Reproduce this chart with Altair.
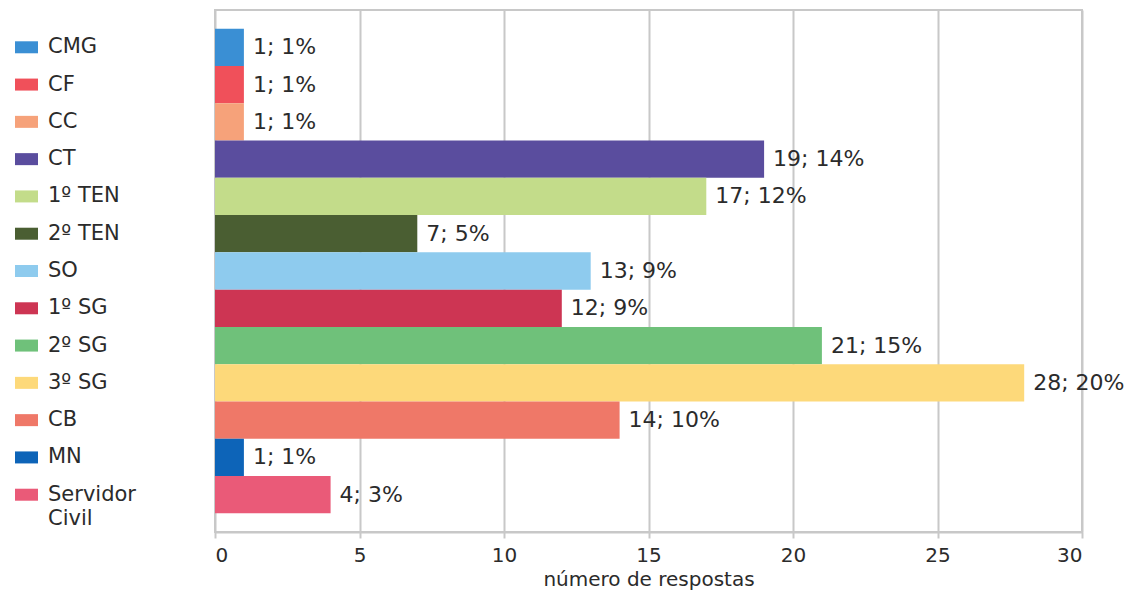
import altair as alt
import pandas as pd

categories = ["CMG", "CF", "CC", "CT", "1º TEN", "2º TEN", "SO", "1º SG",
              "2º SG", "3º SG", "CB", "MN", "Servidor Civil"]
legend_labels = ["CMG", "CF", "CC", "CT", "1º TEN", "2º TEN", "SO", "1º SG",
                 "2º SG", "3º SG", "CB", "MN", "Servidor\nCivil"]
counts = [1, 1, 1, 19, 17, 7, 13, 12, 21, 28, 14, 1, 4]
percents = [1, 1, 1, 14, 12, 5, 9, 9, 15, 20, 10, 1, 3]
colors = ["#3a8fd4", "#f0505a", "#f6a27a", "#5a4d9e", "#c3dc8a", "#4a5e32",
          "#8ecbee", "#cd3553", "#6fc17a", "#fdd97a", "#ef7868", "#0d64b8",
          "#ea5a78"]
x_ticks = [0, 5, 10, 15, 20, 25, 30]

df = pd.DataFrame({
    "cat": categories,
    "legend": legend_labels,
    "n": counts,
    "pct": percents,
    "color": colors,
})
df["label"] = df["n"].astype(str) + "; " + df["pct"].astype(str) + "%"

FONT = "DejaVu Sans"
TXT = "#2b2b2b"

y = alt.Y("cat:N", sort=categories, axis=None,
          scale=alt.Scale(paddingInner=0, paddingOuter=0.5))
x = alt.X("n:Q", scale=alt.Scale(domain=[0, 30]),
          axis=alt.Axis(values=x_ticks, title="número de respostas",
                        grid=True, gridColor="#c8c8c8", gridWidth=2,
                        domainColor="#c8c8c8", domainWidth=2,
                        tickColor="#c8c8c8", tickWidth=2, tickSize=6,
                        labelFont=FONT, labelFontSize=20, labelColor=TXT,
                        labelPadding=7,
                        titleFont=FONT, titleFontSize=20, titleColor=TXT,
                        titleFontWeight="normal", titlePadding=4))

bars = alt.Chart(df).mark_bar().encode(
    x=x, y=y, color=alt.Color("color:N", scale=None))

labels = alt.Chart(df).mark_text(
    align="left", baseline="middle", dx=9, fontSize=22, font=FONT, color=TXT
).encode(x="n:Q", y=y, text="label:N")

swatches = alt.Chart(df).mark_bar(height=12).encode(
    x=alt.value(-200), x2=alt.value(-177), y=y,
    color=alt.Color("color:N", scale=None))

legtext = alt.Chart(df).mark_text(
    align="left", baseline="middle", fontSize=21, font=FONT, color=TXT,
    lineBreak="\n", lineHeight=24
).encode(x=alt.value(-167), y=y, text="legend:N")

chart = alt.layer(bars, labels, swatches, legtext).properties(
    width=867, height=522,
    autosize="none",
    padding={"left": 207, "top": 2, "right": 49, "bottom": 62},
).configure_view(stroke="#c8c8c8", strokeWidth=2)

chart.save("out.html", embed_options={"renderer": "svg", "actions": False})
